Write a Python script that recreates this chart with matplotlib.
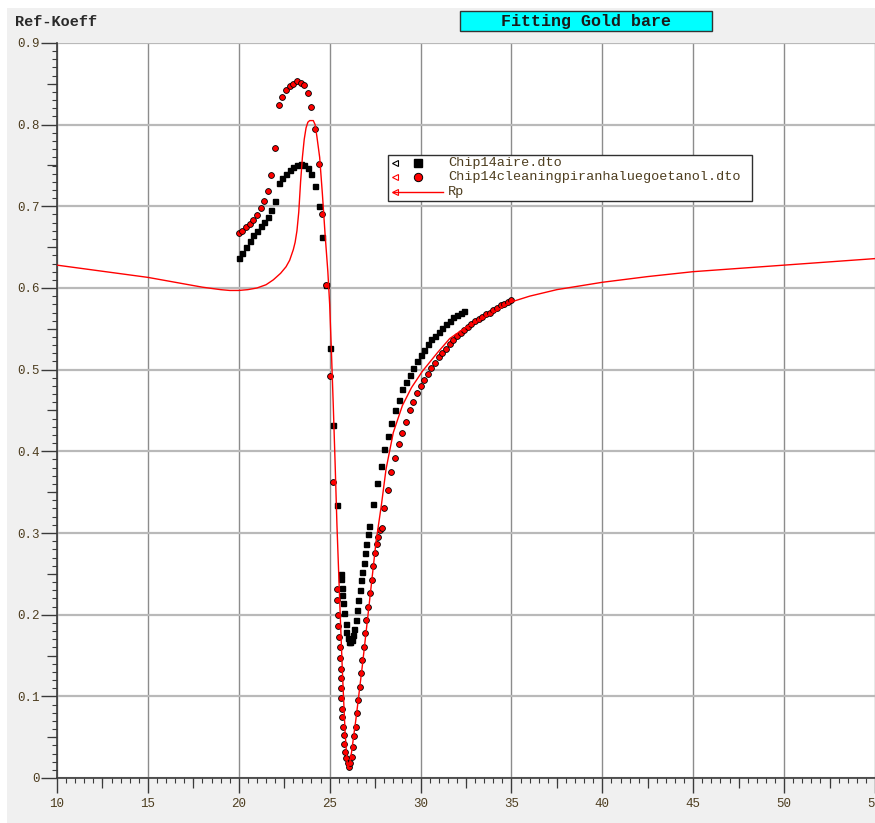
import matplotlib
matplotlib.use('Agg')
import matplotlib.pyplot as plt
from matplotlib.patches import Rectangle
from matplotlib.lines import Line2D
from matplotlib.ticker import MultipleLocator
import numpy as np

# Chip14aire.dto (black squares)
air_x = [20.0, 20.2, 20.4, 20.6, 20.8, 21.0, 21.2, 21.4, 21.6, 21.8, 22.0, 22.2,
         22.4, 22.6, 22.8, 23.0, 23.2, 23.4, 23.6, 23.8, 24.0, 24.2, 24.4, 24.6,
         24.8, 25.0, 25.2, 25.4,
         25.62, 25.63, 25.66, 25.70, 25.73, 25.81, 25.88, 25.92, 25.99, 26.06,
         26.14, 26.21, 26.28, 26.36, 26.43, 26.50, 26.58, 26.65, 26.72, 26.80,
         26.87, 26.94, 27.02, 27.09, 27.16,
         27.4, 27.6, 27.8, 28.0, 28.2, 28.4, 28.6, 28.8, 29.0, 29.2, 29.4, 29.6,
         29.8, 30.0, 30.2, 30.4, 30.6, 30.8, 31.0, 31.2, 31.4, 31.6, 31.8, 32.0,
         32.2, 32.4]
air_y = [0.637, 0.643, 0.650, 0.657, 0.665, 0.670, 0.676, 0.681, 0.687, 0.696, 0.707, 0.729,
         0.735, 0.740, 0.744, 0.748, 0.751, 0.752, 0.751, 0.747, 0.740, 0.725, 0.700, 0.663,
         0.604, 0.527, 0.432, 0.334,
         0.250, 0.244, 0.233, 0.224, 0.214, 0.202, 0.189, 0.179, 0.171, 0.167,
         0.166, 0.169, 0.175, 0.183, 0.193, 0.206, 0.218, 0.230, 0.242, 0.252,
         0.263, 0.275, 0.287, 0.299, 0.308,
         0.335, 0.361, 0.382, 0.403, 0.419, 0.435, 0.450, 0.463, 0.476, 0.485, 0.494, 0.502,
         0.510, 0.518, 0.524, 0.532, 0.537, 0.541, 0.546, 0.551, 0.556, 0.559, 0.564, 0.567,
         0.569, 0.572]

# Chip14cleaningpiranhaluegoetanol.dto (red circles)
pir_x = [20.0, 20.2, 20.4, 20.6, 20.8, 21.0, 21.2, 21.4, 21.6, 21.8, 22.0, 22.2,
         22.4, 22.6, 22.8, 23.0, 23.2, 23.4, 23.6, 23.8, 24.0, 24.2, 24.4, 24.6,
         24.8, 25.0, 25.2,
         25.40, 25.43, 25.46, 25.47, 25.49, 25.55, 25.59, 25.60, 25.62, 25.63,
         25.64, 25.66, 25.70, 25.73, 25.77, 25.81, 25.86, 25.92, 25.99, 26.06,
         26.14, 26.21, 26.28, 26.36, 26.43, 26.50, 26.58, 26.65, 26.72, 26.80,
         26.87, 26.94, 27.02, 27.13, 27.20, 27.31, 27.38, 27.49, 27.60, 27.68,
         27.79, 27.86,
         28.0, 28.2, 28.4, 28.6, 28.8, 29.0, 29.2, 29.4, 29.6, 29.8, 30.0, 30.2,
         30.4, 30.6, 30.8, 31.0, 31.2, 31.4, 31.6, 31.8, 32.0, 32.2, 32.4, 32.6,
         32.8, 33.0, 33.2, 33.4, 33.6, 33.8, 34.0, 34.2, 34.4, 34.6, 34.8, 35.0]
pir_y = [0.667, 0.670, 0.675, 0.678, 0.683, 0.689, 0.698, 0.707, 0.719, 0.738, 0.771, 0.824,
         0.834, 0.842, 0.847, 0.850, 0.853, 0.851, 0.848, 0.839, 0.822, 0.795, 0.752, 0.691,
         0.604, 0.492, 0.363,
         0.231, 0.218, 0.200, 0.186, 0.173, 0.161, 0.147, 0.134, 0.122, 0.110,
         0.098, 0.085, 0.075, 0.063, 0.053, 0.042, 0.032, 0.024, 0.018, 0.014,
         0.018, 0.026, 0.038, 0.051, 0.063, 0.079, 0.095, 0.112, 0.128, 0.144,
         0.161, 0.177, 0.193, 0.210, 0.226, 0.242, 0.259, 0.275, 0.287, 0.295,
         0.304, 0.306,
         0.331, 0.353, 0.375, 0.392, 0.409, 0.422, 0.436, 0.450, 0.460, 0.471, 0.480, 0.487,
         0.495, 0.502, 0.508, 0.515, 0.521, 0.525, 0.531, 0.536, 0.541, 0.545, 0.548, 0.552,
         0.556, 0.559, 0.562, 0.565, 0.568, 0.570, 0.573, 0.576, 0.579, 0.581, 0.583, 0.585]

# Rp (fit)
rp_x = [10, 12, 14, 15, 16, 17, 18, 19, 19.5, 20, 20.5, 21, 21.5, 21.9, 22.3, 22.6,
        22.8, 23.0, 23.1, 23.2, 23.3, 23.4, 23.5, 23.6, 23.7, 23.8, 23.9, 24.1, 24.2,
        24.3, 24.45, 24.6, 24.75, 24.9, 25.0, 25.1, 25.2, 25.3, 25.4, 25.55, 25.7,
        25.85, 25.95, 26.0, 26.1, 26.2, 26.45, 26.8, 27.2, 27.55, 27.85, 28.1, 28.5,
        29.0, 29.5, 30.1, 30.9, 31.6, 32.5, 34.0, 35.0, 36, 37.5, 40, 42.5, 45, 47.5,
        50, 52.5, 55]
rp_y = [0.628, 0.622, 0.616, 0.613, 0.609, 0.605, 0.601, 0.598, 0.597, 0.597, 0.598, 0.600,
        0.604, 0.610, 0.618, 0.626, 0.634, 0.647, 0.656, 0.670, 0.693, 0.730, 0.760, 0.782,
        0.796, 0.803, 0.805, 0.805, 0.800, 0.785, 0.760, 0.715, 0.665, 0.620, 0.580, 0.520,
        0.455, 0.385, 0.310, 0.218, 0.130, 0.055, 0.022, 0.012, 0.018, 0.031, 0.073, 0.138,
        0.218, 0.289, 0.335, 0.378, 0.423, 0.456, 0.478, 0.498, 0.520, 0.538, 0.552, 0.570,
        0.583, 0.590, 0.598, 0.607, 0.614, 0.620, 0.624, 0.628, 0.632, 0.636]

W, H = 875, 823
mono = 'Liberation Mono'
txt_col = '#4d3d1f'


def fp(x, y):
    # pixel (from top-left) -> figure fraction
    return x / W, 1 - y / H


fig = plt.figure(figsize=(W / 100, H / 100), dpi=100, facecolor='white')
fig.patches.append(Rectangle(fp(7, H), 1 - 7 / W, 1 - 8 / H, transform=fig.transFigure,
                             facecolor='#f0f0f0', edgecolor='none', zorder=-5))

l, b = fp(57, 778)
r, t = fp(875, 43)
ax = fig.add_axes([l, b, r - l, t - b])
ax.set_facecolor('white')

ax.plot(air_x, air_y, 's', color='black', ms=3.6, zorder=3)
ax.plot(pir_x, pir_y, 'o', mfc='#ff0000', mec='black', mew=0.6, ms=4.2, zorder=4)
ax.plot(rp_x, rp_y, '-', color='#ff0000', lw=1.0, zorder=5)

ax.set_xlim(10, 55)
ax.set_ylim(0, 0.9)
ax.xaxis.set_major_locator(MultipleLocator(5))
ax.xaxis.set_minor_locator(MultipleLocator(0.5))
ax.yaxis.set_major_locator(MultipleLocator(0.1))
ax.yaxis.set_minor_locator(MultipleLocator(0.01))
ax.set_yticks(np.arange(0, 0.91, 0.1))
ax.set_yticklabels(['0'] + ['%.1f' % v for v in np.arange(0.1, 0.91, 0.1)])

for s in ['top', 'right']:
    ax.spines[s].set_visible(False)
for s in ['left', 'bottom']:
    ax.spines[s].set_color('#3a3a3a')
    ax.spines[s].set_linewidth(1.2)

ax.tick_params(axis='x', which='major', length=10.8, width=1, color='#3a3a3a',
               labelsize=9, labelcolor=txt_col, pad=3.5)
ax.tick_params(axis='y', which='major', length=11.5, width=1, color='#3a3a3a',
               labelsize=9, labelcolor=txt_col, pad=1)
ax.tick_params(which='minor', length=3.6, width=0.8, color='#3a3a3a')
for lab in ax.get_xticklabels() + ax.get_yticklabels():
    lab.set_family(mono)

# medium ticks
secx = ax.secondary_xaxis('bottom')
secx.set_xticks(np.arange(12.5, 55, 5))
secx.tick_params(length=7.2, width=0.9, color='#3a3a3a', labelbottom=False)
secx.spines['bottom'].set_visible(False)
secy = ax.secondary_yaxis('left')
secy.set_yticks(np.arange(0.05, 0.9, 0.1))
secy.tick_params(length=7.2, width=0.9, color='#3a3a3a', labelleft=False)
secy.spines['left'].set_visible(False)

ax.grid(True, axis='x', which='major', color='#8c8c8c', lw=1.0, zorder=0)
ax.grid(True, axis='y', which='major', color='#b9b9b9', lw=1.6, zorder=0)
ax.set_axisbelow(True)

# header
fig.text(*fp(15, 22), 'Ref-Koeff', family=mono, weight='bold', size=11,
         color='#2a2a2a', ha='left', va='center')
x0, y0 = fp(460, 31)
x1, y1 = fp(712, 11)
fig.patches.append(Rectangle((x0, y0), x1 - x0, y1 - y0, transform=fig.transFigure,
                             facecolor='#00ffff', edgecolor='#333333', lw=1.0))
fig.text(*fp(586, 21.5), 'Fitting Gold bare', family=mono, weight='bold', size=12,
         color='#1a1a1a', ha='center', va='center')

# legend
x0, y0 = fp(388, 201)
x1, y1 = fp(752, 155)
fig.patches.append(Rectangle((x0, y0), x1 - x0, y1 - y0, transform=fig.transFigure,
                             facecolor='white', edgecolor='#303030', lw=1.0, zorder=6))


def leg_mark(x, y, **kw):
    fig.add_artist(Line2D([fp(x, y)[0]], [fp(x, y)[1]], transform=fig.transFigure,
                          zorder=7, **kw))


rows = [163, 177, 191.5]
leg_mark(395, rows[0], marker='<', ms=4, mfc='none', mec='black', mew=0.8, ls='none')
leg_mark(418, rows[0], marker='s', ms=5.5, color='black', ls='none')
leg_mark(395, rows[1], marker='<', ms=4, mfc='none', mec='#ff0000', mew=0.8, ls='none')
leg_mark(418, rows[1], marker='o', ms=6, mfc='#ff0000', mec='black', mew=0.7, ls='none')
xa, ya = fp(393, rows[2])
xb, _ = fp(443, rows[2])
fig.add_artist(Line2D([xa, xb], [ya, ya], transform=fig.transFigure, color='#ff0000',
                      lw=1.0, zorder=7))
leg_mark(395, rows[2], marker='<', ms=4, mfc='none', mec='#ff0000', mew=0.8, ls='none')
for yy, name in zip(rows, ['Chip14aire.dto', 'Chip14cleaningpiranhaluegoetanol.dto', 'Rp']):
    fig.text(*fp(448, yy), name, family=mono, size=9.7, color=txt_col,
             ha='left', va='center', zorder=8)

fig.savefig('out.png', dpi=100)
